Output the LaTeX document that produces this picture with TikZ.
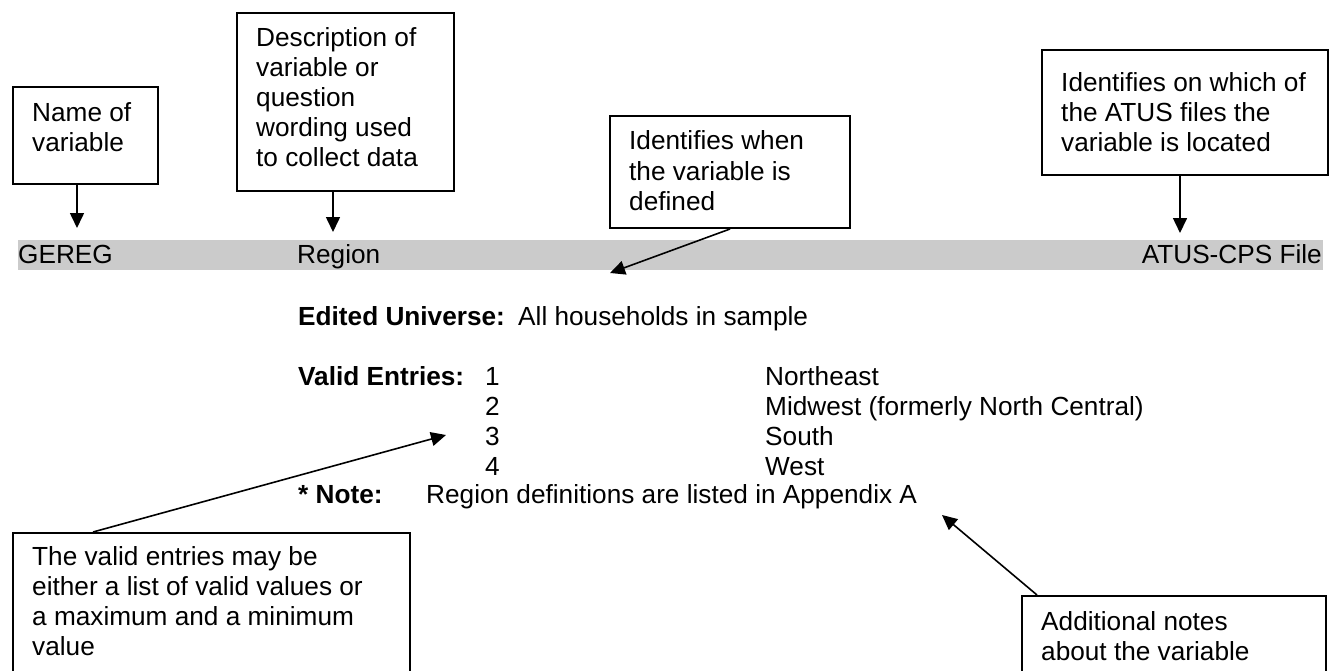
\documentclass[tikz,border=0pt]{standalone}
\usepackage{fontspec}
\setmainfont{Liberation Sans}
\usetikzlibrary{arrows.meta,calc}
\definecolor{bargray}{RGB}{203,203,203}
\newcommand{\ml}[1]{\begin{tabular}[t]{@{}l@{}}#1\end{tabular}}
\begin{document}
\begin{tikzpicture}[x=1pt,y=-1pt,
  every node/.style={font=\fontsize{26.2}{30}\selectfont},
  txt/.style={inner sep=0pt,anchor=base west},
  lbl/.style={txt,font=\fontsize{26.2}{30}\selectfont\bfseries},
  box/.style={draw=black,line width=2pt,anchor=north west,inner sep=0pt},
  arr/.style={line width=1.6pt,-{Triangle[length=15pt,width=14pt]}}]
\useasboundingbox (0,0) rectangle (1329,671);
\clip (0,0) rectangle (1329,671);
\fill[white] (0,0) rectangle (1329,671);

% gray bar
\node[fill=bargray,inner sep=0pt,anchor=north west,minimum width=1305pt,minimum height=30pt] (bar) at (18,240) {};
\node[txt] (gereg) at (18,263) {GEREG};
\node[txt] (region) at (297,263) {Region};
\node[txt,anchor=base east] (file) at (1322,263) {ATUS-CPS File};

% boxes
\node[box,minimum width=145pt,minimum height=97pt] (bname) at (12,86) {};
\node[txt] (tname) at (32,122) {\ml{Name of\\variable}};

\node[box,minimum width=217pt,minimum height=178pt] (bdesc) at (236,12) {};
\node[txt] (tdesc) at (256,47) {\ml{Description of\\variable or\\question\\wording used\\to collect data}};

\node[box,minimum width=240pt,minimum height=112pt] (bwhen) at (609,115) {};
\node[txt] (twhen) at (629,150) {\ml{Identifies when\\the variable is\\defined}};

\node[box,minimum width=286pt,minimum height=125pt] (bfile) at (1041,49) {};
\node[txt] (tfile) at (1061,92) {\ml{Identifies on which of\\the ATUS files the\\variable is located}};

\node[box,minimum width=397pt,minimum height=145pt] (bvalid) at (12,532) {};
\node[txt] (tvalid) at (32,565) {\ml{The valid entries may be\\either a list of valid values or\\a maximum and a minimum\\value}};

\node[box,minimum width=304pt,minimum height=85pt] (bnotes) at (1021,595) {};
\node[txt] (tnotes) at (1041,630) {\ml{Additional notes\\about the variable}};

% body text
\node[lbl] (eu) at (298,325) {Edited Universe:};
\node[txt] (euv) at (518,325) {All households in sample};
\node[lbl] (ve) at (298,385) {Valid Entries:};
\node[txt] (n1) at (485,385) {1};
\node[txt] (n2) at (485,415) {2};
\node[txt] (n3) at (485,445) {3};
\node[txt] (n4) at (485,475) {4};
\node[txt] (v1) at (765,385) {Northeast};
\node[txt] (v2) at (765,415) {Midwest (formerly North Central)};
\node[txt] (v3) at (765,445) {South};
\node[txt] (v4) at (765,475) {West};
\node[lbl] (note) at (298,503) {* Note:};
\node[txt] (notev) at (426,503) {Region definitions are listed in Appendix A};

% arrow tips
\coordinate (p1) at (77,228);
\coordinate (p2) at (333,232);
\coordinate (p3) at (610,273);
\coordinate (p4) at (1180,233);
\coordinate (p5) at (446,435);
\coordinate (p6) at (942,515);

\draw[arr] ($(bname.south west)+(65,0)$) -- (p1);
\draw[arr] ($(bdesc.south west)+(97,0)$) -- (p2);
\draw[arr] ($(bwhen.south west)+(121,0)$) -- (p3);
\draw[arr] ($(bfile.south west)+(139,0)$) -- (p4);
\draw[arr] ($(bvalid.north west)+(81,0)$) -- (p5);
\draw[arr] ($(bnotes.north west)+(16,0)$) -- (p6);
\end{tikzpicture}
\end{document}
